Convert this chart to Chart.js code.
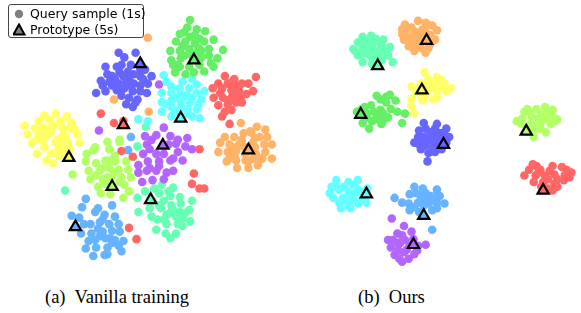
<!DOCTYPE html>
<html>
<head>
<meta charset="utf-8">
<script src="https://cdn.jsdelivr.net/npm/chart.js@4/dist/chart.umd.min.js"></script>
<style>
    body { margin: 0; background: #fff; }
    #wrap { position: relative; width: 581px; height: 313px; overflow: hidden; }
    canvas { position: absolute; top: 0; }
    #left { left: 0; }
    #right { left: 290px; }
    .legend {
        position: absolute; left: 8px; top: 4px; width: 134px; height: 32px;
        border: 1px solid #444; border-radius: 3px; background: rgba(255,255,255,0.85);
        font-family: "DejaVu Sans", sans-serif; font-size: 12.5px; color: #000;
    }
    .legend .row { position: absolute; left: 4px; height: 16px; line-height: 16px; white-space: nowrap; }
    .legend svg { position: absolute; left: 0; top: 1px; }
    .legend span { position: absolute; left: 17px; top: 0; }
    .caption {
        position: absolute; top: 287px; font-family: "Liberation Serif", "Times New Roman", serif;
        font-size: 18.5px; color: #000; white-space: pre;
    }
</style>
</head>
<body>
<div id="wrap">
    <canvas id="left" width="290" height="275"></canvas>
    <canvas id="right" width="291" height="275"></canvas>
    <div class="legend">
        <div class="row" style="top:1px">
            <svg width="14" height="14"><circle cx="6" cy="7" r="4.2" fill="#808080"/></svg>
            <span>Query sample (1s)</span>
        </div>
        <div class="row" style="top:17px">
            <svg width="14" height="14"><polygon points="6,1.5 11.5,11.5 0.5,11.5" fill="#808080" stroke="#000" stroke-width="2" stroke-linejoin="miter"/></svg>
            <span>Prototype (5s)</span>
        </div>
    </div>
    <div class="caption" style="left:45px">(a)  Vanilla training</div>
    <div class="caption" style="left:358px">(b)  Ours</div>
</div>
<script>
// class colours
const palette = {
    red: '#ff6666', orange: '#ffb366', yellow: '#ffff66', lime: '#b3ff66', green: '#66ee66',
    mint: '#66ffb3', cyan: '#66ffff', sky: '#66b3ff', blue: '#6666ff', purple: '#b366ff'
};

// (a) Vanilla training - query embeddings (px units)
const vanillaBlue = [[117,47],[123,52],[135,47],[130,60],[103,62],[115,62],[110,72],[118,68],[127,67],[133,70],[140,72],[152,72],[98,77],[107,78],[117,80],[125,78],[133,80],[140,82],[148,80],[93,90],[103,88],[115,87],[123,85],[132,88],[140,88],[147,90],[120,93],[128,95],[137,97],[132,105],[113,75],[122,72],[128,75],[143,75],[135,100],
    [120,60],[110,82],[128,82],[120,87],[105,70],[140,65],[125,102],[100,82],[145,65]];
const vanillaGreen = [[193,12],[187,25],[200,22],[209,24],[182,27],[193,30],[203,32],[178,35],[188,35],[198,37],[208,35],[218,33],[172,45],[182,45],[192,43],[202,42],[213,43],[228,44],[173,55],[183,53],[205,52],[213,50],[222,53],[182,62],[192,62],[203,60],[218,62],[177,68],[188,70],[197,68],[208,67],[187,50],[200,47],
    [195,50],[185,40],[205,45],[215,58],[175,60],[190,20],[198,28],[180,60]];
const vanillaCyan = [[165,71],[185,78],[200,81],[173,83],[182,85],[192,85],[163,90],[173,90],[182,92],[190,93],[200,90],[205,97],[163,100],[173,98],[183,98],[193,100],[202,102],[163,110],[173,105],[182,107],[190,107],[200,107],[173,115],[195,115],[203,117],[183,103],[138,118],[148,120],
    [178,95],[187,93],[195,95],[168,102],[178,110],[190,112],[168,78],[195,75],[208,88]];
const vanillaRed = [[230,72],[263,73],[240,75],[223,80],[233,80],[242,82],[248,80],[217,85],[227,85],[237,87],[245,88],[253,91],[218,95],[228,95],[238,93],[247,97],[223,103],[233,102],[242,100],[248,100],[237,108],[227,115],[235,123],[98,112],[112,122],[122,120],[120,152],[132,158],[203,150],[197,176],[195,187],[203,192],[208,192],[128,234],[136,246],
    [225,90],[235,97],[245,93],[238,78],[255,80],[260,88],[230,110]];
const vanillaOrange = [[230,137],[240,137],[250,133],[258,132],[267,137],[275,137],[225,143],[235,145],[245,145],[260,143],[272,145],[223,153],[233,153],[242,152],[252,155],[263,155],[273,153],[232,163],[242,162],[252,162],[260,160],[268,160],[243,170],[255,170],[265,167],[240,157],[250,147],[247,122],[257,131],[264,126],[273,129],[148,31],[112,97],[149,110],
    [238,148],[248,140],[262,148],[270,160],[235,160],[255,163],[262,138],[280,145],[280,160]];
const vanillaYellow = [[50,112],[38,114],[62,115],[32,120],[43,118],[55,120],[67,122],[28,128],[37,127],[47,125],[57,127],[65,128],[20,134],[32,133],[45,132],[58,135],[73,134],[25,143],[37,140],[50,143],[63,142],[75,143],[38,148],[53,150],[65,150],[30,155],[40,162],[47,165],[53,157],[60,155],
    [45,128],[40,135],[52,140],[58,145],[30,140],[45,155],[60,137],[70,128],[17,125]];
const vanillaLime = [[105,142],[118,142],[90,151],[107,150],[82,163],[93,165],[103,162],[113,163],[125,163],[85,173],[97,173],[107,170],[117,172],[127,172],[87,182],[100,182],[110,180],[120,180],[130,180],[95,190],[103,187],[123,188],[98,197],[108,198],[122,202],[68,177],[113,157],[107,162],[118,140],[92,148],
    [100,170],[112,175],[105,180],[92,178],[118,185],[128,195],[83,155]];
const vanillaPurple = [[145,136],[157,135],[172,136],[190,138],[147,145],[188,147],[143,155],[157,155],[180,153],[138,167],[148,163],[160,163],[172,162],[185,162],[138,175],[147,173],[157,173],[168,175],[175,173],[142,185],[153,183],[165,182],[165,127],[178,144],[170,145],[160,81],[96,130],
    [150,150],[165,155],[175,160],[150,170],[160,168],[180,140],[152,140],[195,150]];
const vanillaMint = [[155,192],[163,188],[175,191],[145,195],[160,197],[172,200],[182,201],[153,205],[165,205],[173,210],[183,208],[150,213],[162,213],[172,218],[182,217],[192,215],[152,222],[158,225],[168,220],[178,222],[188,218],[193,227],[168,230],[180,230],[157,236],[167,240],[178,240],[185,232],[137,147],[60,194],[137,202],[138,217],[146,126],
    [160,210],[175,215],[165,225],[185,224],[170,195],[195,205],[172,245]];
const vanillaSky = [[82,203],[78,212],[95,213],[110,210],[67,221],[75,223],[92,217],[102,220],[113,222],[87,230],[97,228],[107,230],[117,230],[77,240],[88,240],[100,238],[110,237],[118,238],[92,247],[103,245],[113,247],[122,248],[82,256],[93,255],[105,255],[117,253],[102,263],[120,259],[97,243],[130,137],[127,151],
    [100,225],[108,245],[95,235],[110,250],[85,248],[105,262],[90,264],[80,230]];

// (a) prototypes
const vanillaProto = {
    blue: [140,59], green: [197,55], cyan: [183,117], red: [122,124], orange: [255,151],
    yellow: [64,159], lime: [110,190], purple: [164,146], mint: [151,204], sky: [71,233]
};

// (b) Ours - query embeddings
const oursMint = [[367,29],[353,36],[372,32],[362,35],[348,43],[358,42],[368,40],[378,38],[387,41],[353,50],[363,48],[373,47],[382,47],[358,57],[368,59],[378,55],[390,57],[365,43],[377,43],
    [358,30],[370,36],[380,33],[357,48],[368,52],[375,50],[385,50],[350,45],[360,40],[370,45],[380,44]];
const oursOrange = [[403,17],[417,13],[427,17],[410,20],[422,22],[437,23],[400,27],[412,28],[430,28],[402,33],[417,33],[407,40],[413,45],[428,42],[435,33],[425,47],[423,33],[410,33],
    [405,22],[415,25],[425,25],[432,18],[420,28],[405,30],[415,38],[420,42],[430,38],[400,22],[425,15]];
const oursYellow = [[424,68],[437,73],[428,75],[442,76],[410,83],[420,80],[432,82],[440,83],[452,85],[415,88],[427,88],[437,89],[410,96],[422,98],[433,97],[410,104],[413,112],[425,92],
    [430,78],[440,78],[418,85],[430,85],[445,80],[437,95],[425,80],[447,88],[420,93]];
const oursGreen = [[373,93],[383,94],[377,97],[387,92],[357,107],[367,103],[377,108],[388,107],[352,110],[363,112],[373,115],[385,116],[358,122],[368,120],[378,123],[365,128],[400,122],[403,112],
    [370,110],[380,112],[362,116],[372,118],[360,105],[383,100],[393,98],[395,110],[380,119]];
const oursBlue = [[423,122],[437,123],[447,128],[418,130],[430,132],[442,133],[417,137],[450,137],[413,143],[425,146],[437,145],[420,150],[432,152],[428,154],[435,153],[447,143],[427,163],[430,140],[440,140],[423,137],
    [425,128],[435,128],[440,133],[428,140],[435,137],[445,135],[418,145],[422,140],[433,148],[442,150]];
const oursCyan = [[330,183],[343,185],[353,183],[323,197],[333,193],[343,195],[353,193],[363,192],[327,202],[337,202],[348,203],[358,202],[335,213],[345,213],[353,208],[362,207],[340,205],
    [330,190],[338,190],[348,188],[345,198],[333,207],[350,197],[358,196],[343,208],[325,190]];
const oursSky = [[392,202],[413,190],[422,192],[437,193],[408,198],[420,200],[430,200],[407,208],[417,207],[428,208],[437,207],[445,208],[408,215],[418,217],[432,215],[437,213],[432,236],[423,210],
    [415,197],[425,197],[432,205],[413,212],[423,204],[435,200],[400,207],[440,200]];
const oursPurple = [[389,224],[402,232],[410,238],[390,247],[400,242],[388,255],[398,250],[408,252],[392,263],[402,260],[413,262],[407,267],[417,253],[425,252],[397,267],
    [395,250],[403,247],[396,258],[405,257],[412,246],[385,247],[395,240],[416,258],[400,270]];
const oursLime = [[533,107],[543,107],[552,105],[528,117],[538,115],[548,113],[560,115],[527,123],[537,123],[547,123],[558,123],[542,128],[553,132],[540,137],[563,120],
    [535,110],[545,117],[553,118],[530,110],[547,128],[555,110],[560,108],[565,118],[535,130],[522,120]];
const oursRed = [[539,166],[530,178],[547,172],[557,173],[570,169],[542,178],[552,178],[562,177],[573,178],[540,185],[550,185],[562,187],[572,183],[555,192],[565,190],[578,180],
    [545,175],[555,182],[565,182],[535,172],[575,172],[580,175],[548,190],[560,194],[543,168],[560,168]];

// (b) prototypes
const oursProto = {
    mint: [374,61], orange: [426,34], yellow: [421,87], green: [356,113], blue: [444,145],
    cyan: [362,198], sky: [423,221], purple: [412,252], lime: [532,131], red: [550,194]
};

const vanillaClusters = {
    blue: vanillaBlue, green: vanillaGreen, cyan: vanillaCyan, red: vanillaRed, orange: vanillaOrange,
    yellow: vanillaYellow, lime: vanillaLime, purple: vanillaPurple, mint: vanillaMint, sky: vanillaSky
};
const oursClusters = {
    mint: oursMint, orange: oursOrange, yellow: oursYellow, green: oursGreen, blue: oursBlue,
    cyan: oursCyan, sky: oursSky, purple: oursPurple, lime: oursLime, red: oursRed
};

const toXY = pts => pts.map(p => ({ x: p[0], y: p[1] }));

function buildDatasets(clusters, protos) {
    const sets = [];
    Object.keys(clusters).forEach(name => {
        sets.push({
            data: toXY(clusters[name]),
            pointRadius: 4.3,
            pointBackgroundColor: palette[name],
            pointBorderWidth: 0,
            order: 2,
            clip: false
        });
    });
    // prototypes drawn on top of the query samples
    Object.keys(protos).forEach(name => {
        sets.push({
            data: toXY([protos[name]]),
            pointStyle: 'triangle',
            pointRadius: 6.5,
            pointBackgroundColor: palette[name],
            pointBorderColor: '#000',
            pointBorderWidth: 2.2,
            order: 1,
            clip: false
        });
    });
    return sets;
}

function makePanel(canvasId, clusters, protos, xMin, xMax) {
    const ctx = document.getElementById(canvasId).getContext('2d');
    return new Chart(ctx, {
        type: 'scatter',
        data: { datasets: buildDatasets(clusters, protos) },
        options: {
            responsive: false,
            animation: false,
            layout: { padding: 0 },
            scales: {
                x: { type: 'linear', min: xMin, max: xMax, display: false },
                y: { type: 'linear', min: 0, max: 275, reverse: true, display: false }
            },
            plugins: {
                legend: { display: false },
                tooltip: { enabled: false }
            }
        }
    });
}

makePanel('left', vanillaClusters, vanillaProto, 0, 290);
makePanel('right', oursClusters, oursProto, 290, 581);
</script>
</body>
</html>
